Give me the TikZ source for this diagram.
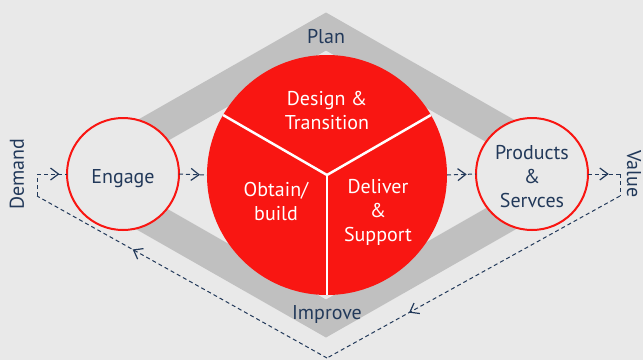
\documentclass[tikz,border=0pt]{standalone}
\usepackage{fontspec}
\setmainfont{PT Sans}
\usepackage[svgnames]{xcolor}
\definecolor{bgGray}{HTML}{E9E9E9}
\definecolor{bandGray}{HTML}{C0C0C0}
\definecolor{wheelRed}{HTML}{F91612}
\definecolor{navy}{HTML}{22395A}
\usepackage{tikz}
\usetikzlibrary{arrows.meta,decorations.markings}
\tikzset{
  stepCircle/.style={%
    circle,
    draw=wheelRed,
    line width=2pt,
    fill=bgGray,
    minimum size=112pt,
    align=center,
    text depth=0pt,
    text=navy},
  wheelArea/.style={%
    circle,
    fill=wheelRed,
    minimum size=240pt},
  wheelText/.style={%
    align=center,
    text=white},
  bandText/.style={%
    text=navy},
  dividerLine/.style={%
    draw=white,
    line width=2.5pt},
  dashLine/.style={%
    draw=navy,
    line width=1pt,
    dash pattern=on 4pt off 3pt},
  flowLine/.style={%
    dashLine,
    postaction={decorate},
    decoration={markings,
      mark=at position #1 with {\arrow{Straight Barb[length=8pt,width=12pt,line width=1.2pt]}}}},
  flowLine/.default=0.65,
  }

\begin{document}
\begin{tikzpicture}[x=1pt,y=-1pt,
  every node/.style={inner sep=0pt,outer sep=0pt,font=\fontsize{20}{24}\selectfont}]
  \useasboundingbox (0,0) rectangle (643,360);
  \fill[bgGray] (0,0) rectangle (643,360);
  % grey band
  \begin{scope}
    \clip (123,0) rectangle (532,360);
    \fill[bandGray,even odd rule] (326,12.5) -- (611,175) -- (326,337.5) -- (41,175) -- cycle
      (326,50.5) -- (544,175) -- (326,299.5) -- (108,175) -- cycle;
  \end{scope}
  % return path
  \coordinate (demand top) at (37,174);
  \coordinate (demand corner) at (37,196);
  \coordinate (bottom corner) at (327,358);
  \coordinate (value corner) at (620,196);
  \coordinate (value top) at (620,174);
  \node[stepCircle,text height=18pt] (engage) at (123,174) {Engage};
  \node[stepCircle,text height=66pt] (products) at (532,174) {Products\\\&\\Servces};
  \node[wheelArea] (wheel) at (327,175) {};
  \draw[dividerLine] (wheel.center) -- (wheel.150);
  \draw[dividerLine] (wheel.center) -- (wheel.30);
  \draw[dividerLine] (wheel.center) -- (wheel.270);
  \draw[flowLine=0.75] (demand top) -- (engage.west);
  \draw[flowLine=0.75] (engage.east) -- (wheel.west);
  \draw[flowLine=0.68] (wheel.east) -- (products.west);
  \draw[flowLine=0.65] (products.east) -- (value top);
  \draw[dashLine] (value top) -- (value corner);
  \draw[flowLine=0.72] (value corner) -- (bottom corner);
  \draw[flowLine=0.67] (bottom corner) -- (demand corner);
  \draw[dashLine] (demand corner) -- (demand top);
  % labels
  \node[wheelText] (design) at (327,110) {Design \&\\Transition};
  \node[wheelText] (obtain) at (276,201) {Obtain/\\build};
  \node[wheelText] (deliver) at (378,212) {Deliver\\\&\\Support};
  \node[bandText] (plan) at (326,37) {Plan};
  \node[bandText] (improve) at (327,314) {Improve};
  \node[bandText,rotate=90] (demand) at (17,174) {Demand};
  \node[bandText,rotate=-90] (value) at (634,174) {Value};
\end{tikzpicture}
\end{document}
